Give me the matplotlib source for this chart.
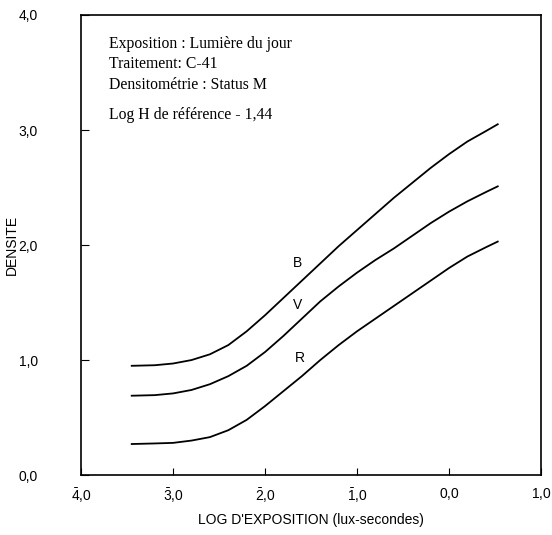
import matplotlib.pyplot as plt

plt.rcParams['font.family'] = ['Liberation Sans', 'DejaVu Sans']
plt.rcParams['mathtext.fontset'] = 'custom'
plt.rcParams['mathtext.rm'] = 'Liberation Sans'

# log exposure (lux-seconds) and density of the three layers
log_h = [-3.45, -3.2, -3.0, -2.8, -2.6, -2.4, -2.2, -2.0, -1.8, -1.6, -1.4,
         -1.2, -1.0, -0.8, -0.6, -0.4, -0.2, 0.0, 0.2, 0.4, 0.53]
dens_b = [0.95, 0.955, 0.97, 1.00, 1.05, 1.13, 1.25, 1.39, 1.54, 1.69, 1.84,
          1.99, 2.13, 2.27, 2.41, 2.54, 2.67, 2.79, 2.90, 2.99, 3.05]
dens_v = [0.69, 0.695, 0.71, 0.74, 0.79, 0.86, 0.95, 1.07, 1.21, 1.36, 1.51,
          1.64, 1.76, 1.87, 1.97, 2.08, 2.19, 2.29, 2.38, 2.46, 2.51]
dens_r = [0.27, 0.275, 0.28, 0.30, 0.33, 0.39, 0.48, 0.60, 0.73, 0.86, 1.00,
          1.13, 1.25, 1.36, 1.47, 1.58, 1.69, 1.80, 1.90, 1.98, 2.03]

x_ticks = [-4, -3, -2, -1, 0, 1]
x_labels = [r'$\bar{\mathrm{4}}\mathrm{{,}0}$', r'$\bar{\mathrm{3}}\mathrm{{,}0}$',
            r'$\bar{\mathrm{2}}\mathrm{{,}0}$', r'$\bar{\mathrm{1}}\mathrm{{,}0}$',
            r'$\mathrm{0{,}0}$', r'$\mathrm{1{,}0}$']
y_ticks = [0, 1, 2, 3, 4]
y_labels = ['0,0', '1,0', '2,0', '3,0', '4,0']

notes = ['Exposition : Lumière du jour', 'Traitement: C-41',
         'Densitométrie : Status M']
note_ref = 'Log H de référence - 1,44'

fig = plt.figure(figsize=(5.52, 5.35), dpi=100)
ax = fig.add_axes([0.147, 0.112, 0.833, 0.86])

for d, name, pos in [(dens_b, 'B', (-1.65, 1.84)),
                     (dens_v, 'V', (-1.65, 1.48)),
                     (dens_r, 'R', (-1.62, 1.02))]:
    ax.plot(log_h, d, color='black', linewidth=1.3)
    ax.text(pos[0], pos[1], name, fontsize=10, ha='center', va='center')

ax.set_xlim(-4, 1)
ax.set_ylim(0, 4)
ax.set_xticks(x_ticks)
ax.set_xticklabels(x_labels, fontsize=10)
ax.set_yticks(y_ticks)
ax.set_yticklabels(y_labels, fontsize=10)
ax.tick_params(axis='x', direction='in', length=5, pad=8)
ax.tick_params(axis='y', direction='in', length=6, pad=31)
ax.set_xlabel("LOG D'EXPOSITION (lux-secondes)", fontsize=10, labelpad=6)
ax.set_ylabel('DENSITE', fontsize=10, labelpad=0)
for s in ax.spines.values():
    s.set_linewidth(1.2)

for i, t in enumerate(notes):
    ax.text(-3.7, 3.75 - i * 0.18, t, fontsize=11.3, family='Liberation Serif',
            va='center')
ax.text(-3.7, 3.13, note_ref, fontsize=11.3, family='Liberation Serif', va='center')

fig.savefig('out.png', dpi=100)
